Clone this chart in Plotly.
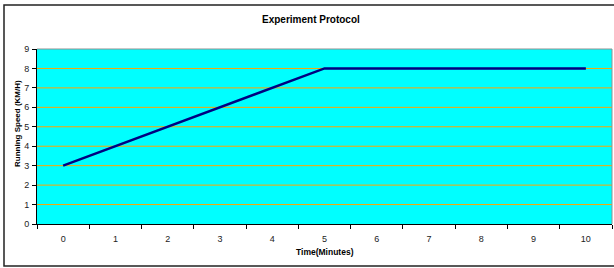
import plotly.graph_objects as go

minutes = ["0", "1", "2", "3", "4", "5", "6", "7", "8", "9", "10"]
speed = [3, 4, 5, 6, 7, 8, 8, 8, 8, 8, 8]
y_ticks = [0, 1, 2, 3, 4, 5, 6, 7, 8, 9]
grid_levels = [1, 2, 3, 4, 5, 6, 7, 8]

W, H = 614, 268
L, R, T, B = 37, 2, 49, 44
pw, ph = W - L - R, H - T - B

def px(x):
    return (x - L) / pw

def py(y):
    return (H - B - y) / ph

fig = go.Figure()
fig.add_trace(go.Scatter(
    x=minutes, y=speed, mode="lines",
    line=dict(color="#000080", width=2.5),
    hoverinfo="skip", showlegend=False,
))

font = "Liberation Sans, Arial, sans-serif"

shapes = [
    dict(type="line", xref="paper", yref="y", x0=0, x1=1, y0=g, y1=g,
         line=dict(color="#FFA500", width=1), layer="below")
    for g in grid_levels
]
shapes += [
    dict(type="rect", xref="paper", yref="paper",
         x0=px(4), x1=px(617), y0=py(266), y1=py(5),
         line=dict(color="#222222", width=1.5), layer="above"),
    dict(type="line", xref="paper", yref="paper", x0=0, x1=1, y0=1, y1=1,
         line=dict(color="#909090", width=1), layer="above"),
    dict(type="line", xref="paper", yref="paper", x0=1, x1=1, y0=0, y1=1,
         line=dict(color="#909090", width=1), layer="above"),
]

fig.update_layout(
    width=W, height=H,
    margin=dict(l=L, r=R, t=T, b=B, autoexpand=False),
    paper_bgcolor="white",
    plot_bgcolor="#00FFFF",
    font=dict(family=font, size=9, color="#222222"),
    xaxis=dict(
        type="category", tickson="boundaries", ticks="outside", ticklen=4,
        tickcolor="black", showline=True, linecolor="black", linewidth=1,
        showgrid=False, zeroline=False, range=[-0.5, 10.5], automargin=False,
        tickfont=dict(size=9, family=font, color="#222222"), ticklabelstandoff=6,
    ),
    yaxis=dict(
        range=[0, 9], tickvals=y_ticks, ticks="outside", ticklen=4,
        tickcolor="black", showline=True, linecolor="black", linewidth=1,
        showgrid=False, zeroline=False, automargin=False,
        tickfont=dict(size=9, family=font, color="#222222"), ticklabelstandoff=1,
    ),
    shapes=shapes,
    annotations=[
        dict(text="<b>Experiment Protocol</b>", xref="paper", yref="paper",
             x=px(311), y=py(19.5), showarrow=False, xanchor="center", yanchor="middle",
             font=dict(size=10, family=font, color="black")),
        dict(text="<b>Time(Minutes)</b>", xref="paper", yref="paper",
             x=px(325), y=py(252), showarrow=False, xanchor="center", yanchor="middle",
             font=dict(size=8.5, family=font, color="black")),
        dict(text="<b>Running Speed (KM/H)</b>", xref="paper", yref="paper",
             x=px(17), y=py(124), showarrow=False, xanchor="center", yanchor="middle",
             textangle=-90, font=dict(size=8, family=font, color="black")),
    ],
)

fig.write_html(
    "out.html",
    config={"displayModeBar": False, "staticPlot": True},
    post_script="document.body.style.margin='0';document.body.style.overflow='hidden';",
)
